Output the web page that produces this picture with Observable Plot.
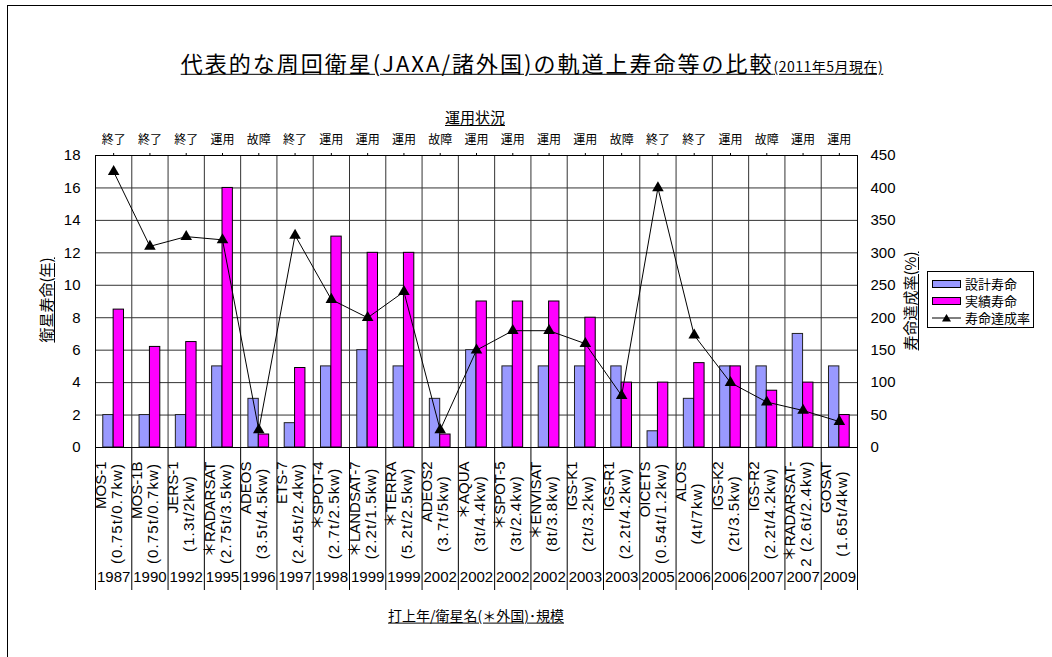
<!DOCTYPE html>
<html><head><meta charset="utf-8">
<script src="https://cdn.jsdelivr.net/npm/d3@7"></script>
<script src="https://cdn.jsdelivr.net/npm/@observablehq/plot@0.6"></script>
<style>
body{margin:0;background:#fff;}
#wrap{position:relative;width:1052px;height:657px;overflow:hidden;background:#fff;font-family:"Noto Sans CJK JP","Liberation Sans",sans-serif;color:#000;}
.abs{position:absolute;white-space:nowrap;color:#000;line-height:1.2;}
.c{transform:translate(-50%,-50%);}
.r{transform:translate(-50%,-50%) rotate(-90deg);}
.u{text-decoration:underline;text-underline-offset:2px;}
#legend{position:absolute;left:927px;top:271px;width:107px;height:57px;border:1px solid #000;box-sizing:border-box;background:#fff;font-size:13px;}
#legend .row{position:absolute;left:4px;height:16px;line-height:16px;display:flex;align-items:center;}
#legend .sw{width:27px;height:6px;border:1px solid #000;margin-right:4px;}
</style></head><body><div id="wrap"></div>
<script>
// ---- data ----
const names = ["MOS-1","MOS-1B","JERS-1","＊RADARSAT","ADEOS","ETS-7","＊SPOT-4","＊LANDSAT-7","＊TERRA","ADEOS2","＊AQUA","＊SPOT-5","＊ENVISAT","IGS-K1","IGS-R1","OICETS","ALOS","IGS-K2","IGS-R2","＊RADARSAT-","GOSAT"];
const specs = ["(0.75t/0.7kw)","(0.75t/0.7kw)","(1.3t/2kw)","(2.75t/3.5kw)","(3.5t/4.5kw)","(2.45t/2.4kw)","(2.7t/2.5kw)","(2.2t/1.5kw)","(5.2t/2.5kw)","(3.7t/5kw)","(3t/4.4kw)","(3t/2.4kw)","(8t/3.8kw)","(2t/3.2kw)","(2.2t/4.2kw)","(0.54t/1.2kw)","(4t/7kw)","(2t/3.5kw)","(2.2t/4.2kw)","2 (2.6t/2.4kw)","(1.65t/4kw)"];
const years = ["1987","1990","1992","1995","1996","1997","1998","1999","1999","2002","2002","2002","2002","2003","2003","2005","2006","2006","2007","2007","2009"];
const statuses = ["終了","終了","終了","運用","故障","終了","運用","運用","運用","故障","運用","運用","運用","運用","故障","終了","終了","運用","故障","運用","運用"];
const designLife = [2,2,2,5,3,1.5,5,6,5,3,6,5,5,5,5,1,3,5,5,7,5];
const actualLife = [8.5,6.2,6.5,16,0.8,4.9,13,12,12,0.8,9,9,9,8,4,4,5.2,5,3.5,4,2];
const achieveRate = [425,310,325,320,27,327,228,200,240,27,150,180,180,160,80,400,173,100,70,57,40];
const leftTicks = [0,2,4,6,8,10,12,14,16,18];
const rateMax = 450, lifeMax = 18;

const data = names.map((n,i)=>({i,name:n,spec:specs[i],year:years[i],status:statuses[i],design:designLife[i],actual:actualLife[i],rate:achieveRate[i]}));

const W = 1052, H = 657, mL = 95, mR = 195, mT = 155, mB = 210;
const colW = (W - mL - mR) / names.length;
const barW = colW / 3.5;
const k = rateMax / lifeMax;
const font = "'Liberation Sans','Noto Sans CJK JP',sans-serif";

const plot = Plot.plot({
  width: W, height: H,
  marginLeft: mL, marginRight: mR, marginTop: mT, marginBottom: mB,
  style: {fontFamily: font, fontSize: "15px", color: "#000", background: "#fff", overflow: "visible"},
  x: {domain: [0, names.length], label: null},
  y: {domain: [0, lifeMax], label: null},
  marks: [
    Plot.gridY({ticks: leftTicks, stroke: "#333", strokeOpacity: 1}),
    Plot.gridX({ticks: d3.range(0, names.length + 1), stroke: "#333", strokeOpacity: 1}),
    Plot.rect(data, {x1: d => d.i, x2: d => d.i + 1, y1: d => 0, y2: "design", fill: "#9999ff", stroke: "#222", strokeWidth: 1, insetLeft: 0.75 * barW, insetRight: 1.75 * barW}),
    Plot.rect(data, {x1: d => d.i, x2: d => d.i + 1, y1: d => 0, y2: "actual", fill: "#ff00ff", stroke: "#000", strokeWidth: 1, insetLeft: 1.75 * barW, insetRight: 0.75 * barW}),
    Plot.line(data, {x: d => d.i + 0.5, y: d => d.rate / k, stroke: "#000", strokeWidth: 1}),
    Plot.dot(data, {x: d => d.i + 0.5, y: d => d.rate / k, symbol: "triangle", fill: "#000", stroke: "none", r: 4.3}),
    Plot.frame({stroke: "#000"}),
    Plot.axisY({anchor: "left", ticks: leftTicks, tickSize: 0, tickPadding: 15, fontSize: 15, label: null}),
    Plot.axisY({anchor: "right", ticks: leftTicks, tickSize: 0, tickPadding: 13, fontSize: 15, tickFormat: d => d * k, label: null}),
    Plot.axisX({anchor: "top", ticks: data.map(d => d.i + 0.5), tickSize: 3, tickPadding: 9, fontSize: 12, tickFormat: v => statuses[Math.floor(v)], label: null}),
    Plot.axisX({anchor: "bottom", ticks: d3.range(0, names.length + 1), tickSize: 143, tickFormat: () => "", label: null}),
    Plot.text(data, {x: d => d.i + 0.5, frameAnchor: "bottom", text: "name", rotate: -90, textAnchor: "end", dx: -8, dy: 14, fontSize: 15}),
    Plot.text(data, {x: d => d.i + 0.5, frameAnchor: "bottom", text: "spec", rotate: -90, textAnchor: "middle", dx: 8, dy: 66, fontSize: 15}),
    Plot.text(data, {x: d => d.i + 0.5, frameAnchor: "bottom", text: "year", dy: 134, fontSize: 15})
  ]
});
// widen the rotated spec labels a little (letter spacing), like the original
const textGroups = plot.querySelectorAll('g[aria-label="text"]');
if (textGroups[1]) textGroups[1].style.letterSpacing = "1.1px";
plot.style.position = "absolute";
plot.style.left = "0px";
plot.style.top = "0px";
const wrap = document.getElementById("wrap");
wrap.appendChild(plot);

function addDiv(html, cls, x, y, style) {
  const el = document.createElement("div");
  el.className = "abs " + cls;
  el.style.left = x + "px";
  el.style.top = y + "px";
  Object.assign(el.style, style || {});
  el.innerHTML = html;
  wrap.appendChild(el);
  return el;
}
// page border (top and left)
addDiv("", "", 7, 5, {width: "1045px", height: "652px", borderTop: "1px solid #000", borderLeft: "1px solid #000"});
// title
addDiv('<span style="font-size:22px;letter-spacing:2px">代表的な周回衛星(JAXA/諸外国)の軌道上寿命等の比較</span><span style="font-size:14px;letter-spacing:0.5px">(2011年5月現在)</span>', "c u", 532, 62, {});
addDiv("運用状況", "c u", 475, 117, {fontSize: "15px"});
addDiv("衛星寿命(年)", "r u", 46, 300, {fontSize: "15px"});
addDiv("寿命達成率(%)", "r u", 910, 301, {fontSize: "15px"});
addDiv("打上年/衛星名(＊外国)･規模", "c u", 476, 615, {fontSize: "14px"});
// legend
const lg = document.createElement("div");
lg.id = "legend";
lg.innerHTML =
  '<div class="row" style="top:4px"><div class="sw" style="background:#9999ff"></div>設計寿命</div>' +
  '<div class="row" style="top:21px"><div class="sw" style="background:#ff00ff"></div>実績寿命</div>' +
  '<div class="row" style="top:38px"><svg width="29" height="10" style="margin-right:4px"><line x1="0" y1="5" x2="29" y2="5" stroke="#000"/><path d="M14.5,1 L19,8.5 L10,8.5 Z" fill="#000"/></svg>寿命達成率</div>';
wrap.appendChild(lg);
</script></body></html>
